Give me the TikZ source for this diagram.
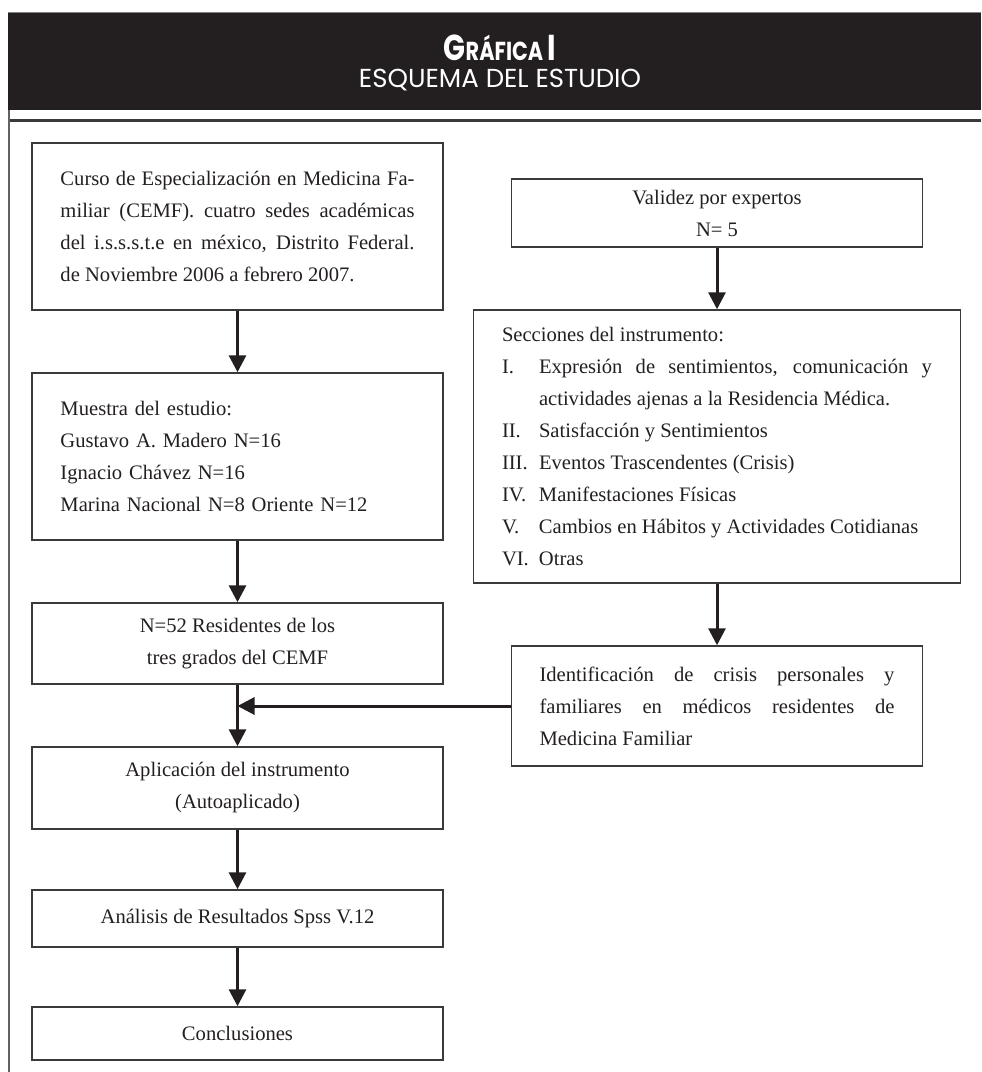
\documentclass[tikz,border=0pt]{standalone}
\usepackage{fontspec}
\setmainfont{Liberation Serif}
\newfontfamily\headfont{Poppins}
\newfontfamily\headtitle{Poppins}[FakeStretch=0.8]
\usetikzlibrary{arrows.meta}
\setlength{\parindent}{0pt}

\definecolor{headbg}{HTML}{231F20}
\definecolor{ink}{HTML}{231F20}
\definecolor{rulegray}{HTML}{3A3A3A}

\newcommand{\bodyfont}{\fontsize{10.3}{16}\selectfont}
\newcommand{\secc}[1]{\noindent\hangindent=18.5pt\hangafter=1\makebox[18.5pt][l]{#1}}

\tikzset{
  box/.style={draw=rulegray, line width=0.75pt, inner sep=0pt, minimum width=205.5pt, font=\bodyfont, text=ink},
  flow/.style={draw=ink, line width=1.5pt, -{Triangle[length=8.5pt,width=8.5pt]}},
  head/.style={text=white, inner sep=0pt, anchor=base},
}

\begin{document}
\begin{tikzpicture}[x=0.5pt, y=-0.5pt]
    \useasboundingbox (0,0) rectangle (981,1072);
    % Draw the header band
    \fill[headbg] (8,12) rectangle (981,110);
    \draw[gray, line width=0.5pt] (8,12) -- (981,12);
    \node[head, font=\headtitle\bfseries] (titulo) at (500,60)
        {\fontsize{18}{18}\selectfont G\fontsize{13}{13}\selectfont RÁFICA \fontsize{18}{18}\selectfont I};
    \node[head, font={\headfont\fontsize{13}{15}\selectfont}] (subtitulo) at (500,87) {ESQUEMA DEL ESTUDIO};
    % Draw the frame rules
    \draw[rulegray, line width=1.5pt] (8,120) -- (981,120);
    \draw[rulegray!80, line width=0.75pt] (9,110) -- (9,1072);
    % Draw the left column boxes
    \node[box, minimum height=83.5pt, text width=177pt, align=justify] (curso) at (237.5,226.5)
        {Curso de Especialización en Medicina Fa-\linebreak miliar (CEMF). cuatro sedes académicas\linebreak del i.s.s.s.t.e en méxico, Distrito Federal.\linebreak de Noviembre 2006 a febrero 2007.};
    \node[box, minimum height=83.5pt, text width=177pt, align=left] (muestra) at (237.5,456.5)
        {Muestra del estudio:\\Gustavo A. Madero N=16\\Ignacio Chávez N=16\\Marina Nacional N=8 Oriente N=12};
    \node[box, minimum height=40.5pt, align=center] (n52) at (237.5,643.5)
        {N=52 Residentes de los\\tres grados del CEMF};
    \node[box, minimum height=41pt, align=center] (aplic) at (237.5,788)
        {Aplicación del instrumento\\(Autoaplicado)};
    \node[box, minimum height=28.5pt] (analisis) at (237.5,918.5) {Análisis de Resultados Spss V.12};
    \node[box, minimum height=26.5pt] (concl) at (237.5,1033.5) {Conclusiones};
    % Draw the right column boxes
    \node[box, minimum height=34pt, align=center] (validez) at (717,213)
        {Validez por expertos\\N= 5};
    \node[box, minimum width=243.5pt, minimum height=136.5pt, text width=215pt, align=justify] (secciones) at (717,446.5)
        {Secciones del instrumento:\par
        \secc{I.}Expresión de sentimientos, comunicación y\linebreak actividades ajenas a la Residencia Médica.\par
        \secc{II.}Satisfacción y Sentimientos\par
        \secc{III.}Eventos Trascendentes (Crisis)\par
        \secc{IV.}Manifestaciones Físicas\par
        \secc{V.}Cambios en Hábitos y Actividades Cotidianas\par
        \secc{VI.}Otras};
    \node[box, minimum height=60pt, text width=177.5pt, align=justify] (ident) at (717,706)
        {Identificación de crisis personales y\linebreak familiares en médicos residentes de\linebreak Medicina Familiar};
    % Draw the arrows
    \draw[flow] (curso) -- (muestra);
    \draw[flow] (muestra) -- (n52);
    \draw[flow] (n52) -- (aplic);
    \draw[flow] (aplic) -- (analisis);
    \draw[flow] (analisis) -- (concl);
    \draw[flow] (validez) -- (secciones);
    \draw[flow] (secciones) -- (ident);
    \coordinate (union) at (n52 |- ident.west);
    \draw[flow] (ident.west) -- (union);
\end{tikzpicture}
\end{document}
